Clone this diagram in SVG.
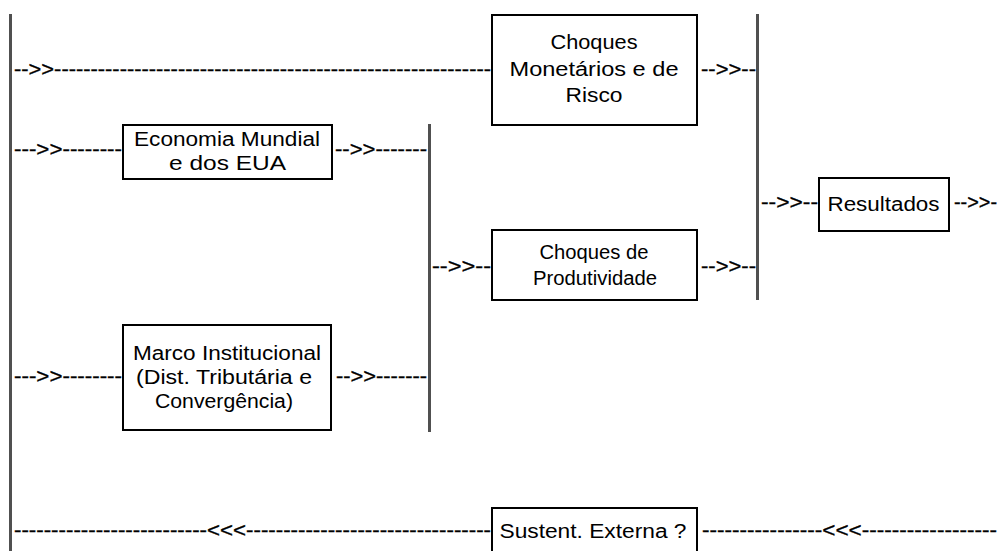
<svg xmlns="http://www.w3.org/2000/svg" width="998" height="551" viewBox="0 0 998 551">
<style>
.box{fill:#fff;stroke:#000;stroke-width:2}
.lbl{font-family:"Liberation Sans",Arial,sans-serif;font-size:19.5px;text-anchor:middle;fill:#000}
.dash{font-family:"Liberation Sans",Arial,sans-serif;font-size:19.5px;fill:#000;stroke:#000;stroke-width:0.3}
.bus{stroke:#505050;stroke-width:3;fill:none}
</style>
<rect x="0" y="0" width="998" height="551" fill="#fff"/>
<g id="connectors">
<line class="bus" x1="10.5" y1="14" x2="10.5" y2="551"/>
<line class="bus" x1="429.5" y1="124" x2="429.5" y2="432"/>
<line class="bus" x1="757.5" y1="14" x2="757.5" y2="300"/>
<text class="dash" x="14" y="76.3" textLength="477" lengthAdjust="spacingAndGlyphs">--&gt;&gt;------------------------------------------------------------</text>
<text class="dash" x="14" y="156.3" textLength="108" lengthAdjust="spacingAndGlyphs">---&gt;&gt;--------</text>
<text class="dash" x="335" y="156.3" textLength="92" lengthAdjust="spacingAndGlyphs">--&gt;&gt;-------</text>
<text class="dash" x="14" y="382.5" textLength="108" lengthAdjust="spacingAndGlyphs">---&gt;&gt;--------</text>
<text class="dash" x="336" y="382.5" textLength="91" lengthAdjust="spacingAndGlyphs">--&gt;&gt;-------</text>
<text class="dash" x="432" y="273" textLength="59" lengthAdjust="spacingAndGlyphs">--&gt;&gt;--</text>
<text class="dash" x="701" y="76" textLength="55" lengthAdjust="spacingAndGlyphs">--&gt;&gt;--</text>
<text class="dash" x="701" y="273" textLength="55" lengthAdjust="spacingAndGlyphs">--&gt;&gt;--</text>
<text class="dash" x="761" y="208.6" textLength="57" lengthAdjust="spacingAndGlyphs">--&gt;&gt;--</text>
<text class="dash" x="954" y="208.6" textLength="43" lengthAdjust="spacingAndGlyphs">--&gt;&gt;-</text>
<text class="dash" x="14" y="537" textLength="477" lengthAdjust="spacingAndGlyphs">--------------------------&lt;&lt;&lt;---------------------------------</text>
<text class="dash" x="702" y="537" textLength="295" lengthAdjust="spacingAndGlyphs">----------------&lt;&lt;&lt;------------------</text>
</g>
<g id="choques-monetarios">
<rect class="box" x="492" y="15" width="205" height="110"/>
<text class="lbl" x="594" y="49" textLength="87" lengthAdjust="spacingAndGlyphs">Choques</text>
<text class="lbl" x="594" y="76" textLength="169" lengthAdjust="spacingAndGlyphs">Monetários  e de</text>
<text class="lbl" x="594" y="102" textLength="57" lengthAdjust="spacingAndGlyphs">Risco</text>
</g>
<g id="economia-mundial">
<rect class="box" x="123" y="125" width="209" height="54"/>
<text class="lbl" x="227" y="146" textLength="186" lengthAdjust="spacingAndGlyphs">Economia Mundial</text>
<text class="lbl" x="227.5" y="170" textLength="117" lengthAdjust="spacingAndGlyphs">e dos EUA</text>
</g>
<g id="choques-produtividade">
<rect class="box" x="492" y="230" width="205" height="70"/>
<text class="lbl" x="594" y="258.5" textLength="109" lengthAdjust="spacingAndGlyphs">Choques de</text>
<text class="lbl" x="595" y="284.5" textLength="124" lengthAdjust="spacingAndGlyphs">Produtividade</text>
</g>
<g id="resultados">
<rect class="box" x="819" y="178" width="130" height="53"/>
<text class="lbl" x="883.5" y="210.5" textLength="112" lengthAdjust="spacingAndGlyphs">Resultados</text>
</g>
<g id="marco-institucional">
<rect class="box" x="123" y="325" width="208" height="105"/>
<text class="lbl" x="227" y="360" textLength="188" lengthAdjust="spacingAndGlyphs">Marco Institucional</text>
<text class="lbl" x="224" y="384" textLength="176" lengthAdjust="spacingAndGlyphs">(Dist. Tributária e</text>
<text class="lbl" x="224" y="407.5" textLength="138" lengthAdjust="spacingAndGlyphs">Convergência)</text>
</g>
<g id="sustent-externa">
<rect class="box" x="492" y="508" width="205" height="60"/>
<text class="lbl" x="593" y="538" textLength="187" lengthAdjust="spacingAndGlyphs">Sustent. Externa ?</text>
</g>
</svg>
